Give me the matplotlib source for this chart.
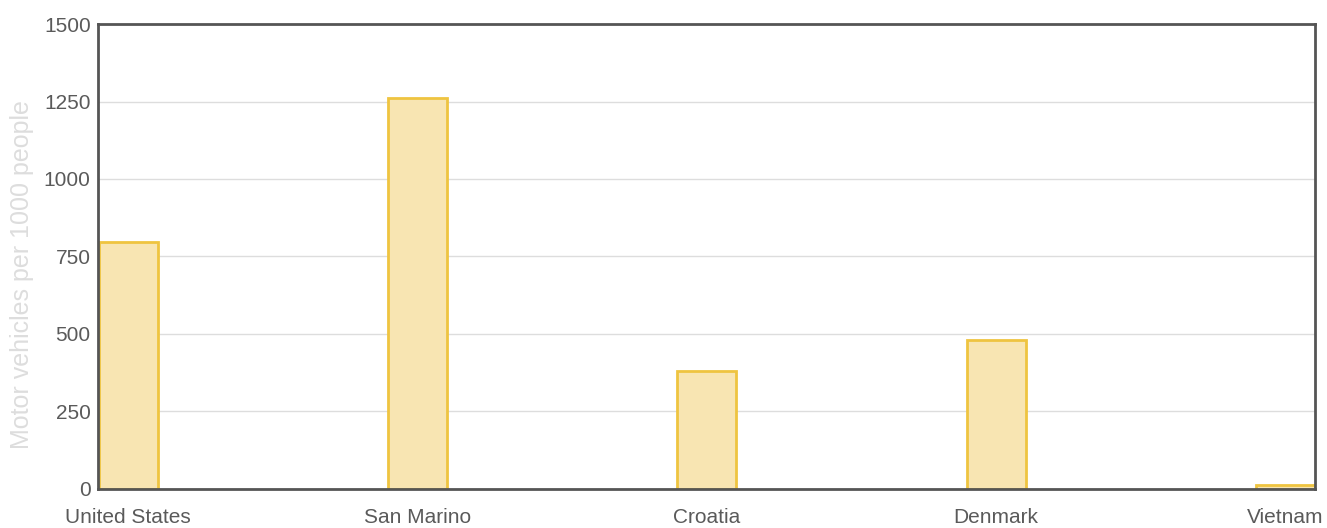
import matplotlib
matplotlib.use("Agg")
import matplotlib.pyplot as plt

countries = ['United States', 'San Marino', 'Croatia', 'Denmark', 'Vietnam']
vehicles = [797, 1260, 380, 480, 13]
y_ticks = [0, 250, 500, 750, 1000, 1250, 1500]

plt.rcParams['font.family'] = ['Liberation Sans', 'DejaVu Sans']

fig = plt.figure(figsize=(13.27, 5.28), dpi=100)
ax = fig.add_axes([0.0736, 0.074, 0.9174, 0.8805])

x = range(len(countries))
ax.bar(x, vehicles, width=0.204, color='#f8e5b2', edgecolor='#efc440',
       linewidth=2, zorder=3, clip_on=True)

ax.set_xlim(-0.106, 4.102)
ax.set_ylim(0, 1500)
ax.set_yticks(y_ticks)
ax.set_xticks(list(x))
ax.set_xticklabels(countries)
ax.yaxis.grid(True, color='#dddddd', linewidth=1, zorder=0)
ax.tick_params(length=0, labelsize=15, labelcolor='#5a5a5a')
ax.tick_params(axis='y', pad=5)
ax.tick_params(axis='x', pad=14)
ax.set_ylabel('Motor vehicles per 1000 people', color='#dddddd', fontsize=18)
ax.yaxis.set_label_coords(-0.052, 0.462)

for s in ax.spines.values():
    s.set_color('#555555')
    s.set_linewidth(2)
    s.set_zorder(5)

fig.savefig('out.png', dpi=100)
